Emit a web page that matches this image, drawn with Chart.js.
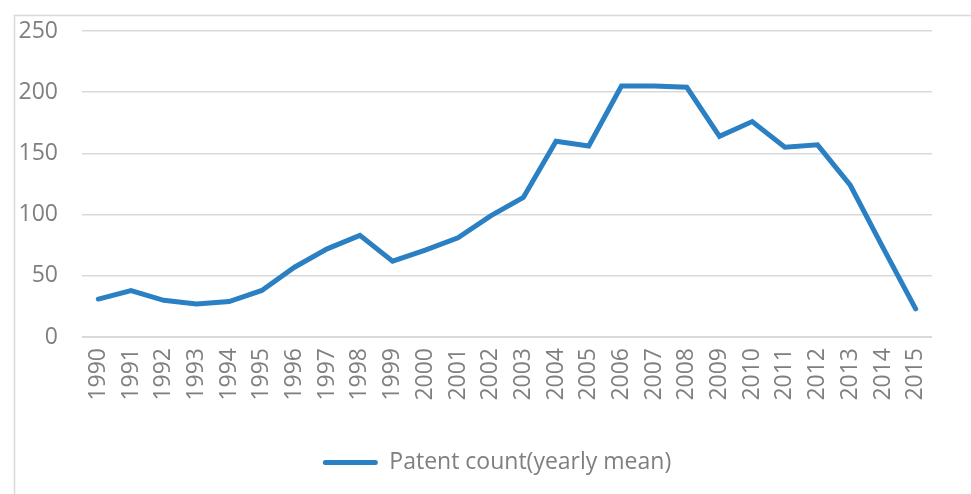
<!DOCTYPE html>
<html>
<head>
<meta charset="utf-8">
<script src="https://cdn.jsdelivr.net/npm/chart.js@4/dist/chart.umd.min.js"></script>
<style>
  html, body { margin: 0; padding: 0; background: #ffffff; }
  #wrap { width: 971px; height: 494px; position: relative; }
</style>
</head>
<body>
<div id="wrap"><canvas id="c" width="971" height="494"></canvas></div>
<script>
const years = ['1990','1991','1992','1993','1994','1995','1996','1997','1998','1999','2000','2001','2002','2003','2004','2005','2006','2007','2008','2009','2010','2011','2012','2013','2014','2015'];
const patentCount = [31,38,30,27,29,38,57,72,83,62,71,81,99,114,160,156,205,205,204,164,176,155,157,124,73,23];
const yTicks = [0, 50, 100, 150, 200, 250];
const seriesLabel = 'Patent count(yearly mean)';

const textColor = '#7f7f7f';
const lineColor = '#2a80c2';
const fontFamily = '"Open Sans", "Noto Sans", sans-serif';

const frame = {
  id: 'frame',
  beforeDraw(chart) {
    const ctx = chart.ctx;
    ctx.save();
    ctx.fillStyle = '#ffffff';
    ctx.fillRect(0, 0, chart.width, chart.height);
    ctx.strokeStyle = '#d9d9d9';
    ctx.lineWidth = 1.5;
    ctx.beginPath();
    ctx.moveTo(14.5, chart.height + 2);
    ctx.lineTo(14.5, 15.5);
    ctx.lineTo(chart.width + 2, 15.5);
    ctx.stroke();
    ctx.restore();
  },
  afterLayout(chart) {
    if (chart.legend) {
      chart.legend.left += 31;
      chart.legend.right += 31;
    }
  }
};

new Chart(document.getElementById('c'), {
  type: 'line',
  data: {
    labels: years,
    datasets: [{
      label: seriesLabel,
      data: patentCount,
      borderColor: lineColor,
      backgroundColor: lineColor,
      borderWidth: 5,
      pointRadius: 0,
      tension: 0,
      borderCapStyle: 'round',
      borderJoinStyle: 'miter',
      fill: false
    }]
  },
  options: {
    responsive: false,
    devicePixelRatio: 1,
    animation: false,
    layout: { padding: { left: 0, right: 39, top: 31, bottom: 10 } },
    plugins: {
      tooltip: { enabled: false },
      legend: {
        position: 'bottom',
        labels: {
          color: textColor,
          font: { family: fontFamily, size: 23 },
          boxWidth: 55,
          boxHeight: 5,
          useBorderRadius: true,
          borderRadius: 2.5,
          padding: 12,
          generateLabels(chart) {
            return Chart.defaults.plugins.legend.labels.generateLabels(chart).map(l => Object.assign(l, { lineWidth: 0 }));
          }
        }
      }
    },
    scales: {
      x: {
        offset: true,
        grid: { display: false, drawTicks: false },
        border: { display: false },
        ticks: {
          color: textColor,
          font: { family: fontFamily, size: 23 },
          minRotation: 90,
          maxRotation: 90,
          autoSkip: false,
          padding: 11
        },
        afterFit(scale) { scale.height = 102; }
      },
      y: {
        min: 0,
        max: 250,
        afterBuildTicks(scale) { scale.ticks = yTicks.map(v => ({ value: v })); },
        grid: {
          color: '#d9d9d9',
          lineWidth: (c) => c.tick && c.tick.value === 0 ? 2 : 1.5,
          drawTicks: false
        },
        border: { display: false },
        ticks: {
          color: textColor,
          font: { family: fontFamily, size: 23 },
          padding: 24
        },
        afterFit(scale) {
          scale.width = 82;
          scale.paddingTop = 0;
          scale.paddingBottom = 0;
        }
      }
    }
  },
  plugins: [frame]
});
</script>
</body>
</html>
